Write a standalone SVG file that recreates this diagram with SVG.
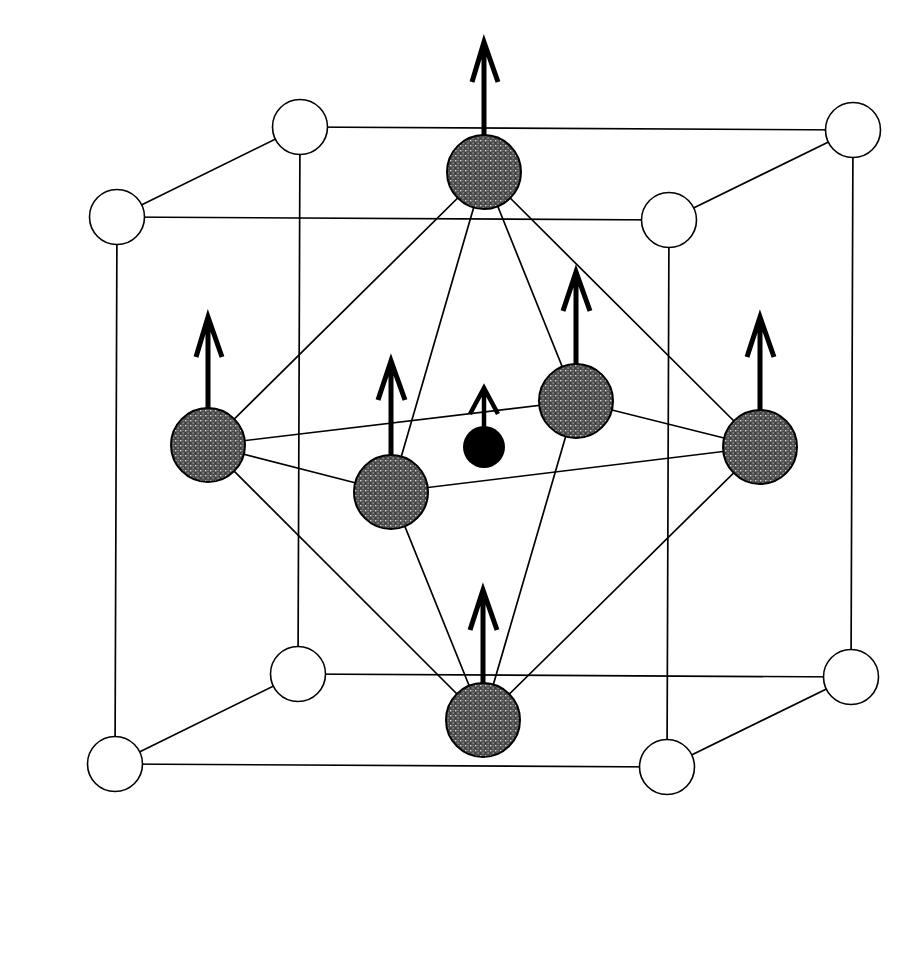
<svg xmlns="http://www.w3.org/2000/svg" width="914" height="972" viewBox="0 0 914 972">
<style>
.l{stroke:#000;stroke-width:1.7;fill:none;stroke-linecap:round}
.w{fill:#fff;stroke:#000;stroke-width:1.6}
.s{fill:url(#dots);stroke:#000;stroke-width:2}
.a{stroke:#000;fill:none;stroke-width:5;stroke-linecap:butt;stroke-linejoin:miter}
</style>
<defs>
<pattern id="dots" width="5" height="5" patternUnits="userSpaceOnUse">
<rect width="5" height="5" fill="#4c4c4c"/>
<rect x="0" y="0" width="1.4" height="1.4" fill="#d8d8d8"/>
<rect x="2.5" y="2.5" width="1.2" height="1.2" fill="#b8b8b8"/>
<rect x="2.5" y="0" width="1" height="1" fill="#8e8e8e"/>
<rect x="0" y="2.5" width="1" height="1" fill="#2c2c2c"/>
</pattern>
</defs>
<rect width="914" height="972" fill="#fff"/>
<g id="connectors">
<path class="l" d="M300 127L853 130M117 217L669 220M298 674L851 677M115 764L667 767"/>
<path class="l" d="M300 127L117 217M853 130L669 220M298 674L115 764M851 677L667 767"/>
<path class="l" d="M117 217L115 764M669 220L667 767M300 127L298 674M853 130L851 677"/>
<path class="l" d="M484 172L208 445M484 172L391 492M484 172L576 401M484 172L760 447"/>
<path class="l" d="M483 720L208 445M483 720L391 492M483 720L576 401M483 720L760 447"/>
<path class="l" d="M208 445L576 401L760 447L391 492Z"/>
</g>
<g id="arrow-top"><path class="a" d="M484 137V42M472 82L484 42L498 82"/></g>
<g id="arrow-left"><path class="a" d="M208 410V317M196 357L208 317L222 357"/></g>
<g id="arrow-front"><path class="a" d="M391 458V361M378 400L391 361L405 400"/></g>
<g id="arrow-back"><path class="a" d="M576 367V272M563 311L576 272L590 311"/></g>
<g id="arrow-right"><path class="a" d="M760 412V317M747 357L760 317L774 357"/></g>
<g id="arrow-bottom"><path class="a" d="M483 690V590M470 630L483 590L497 630"/></g>
<g id="arrow-center"><path class="a" style="stroke-width:4.5" d="M484 430V388M470 414L484 388L498 414"/></g>
<g id="corner-back-top-left"><circle class="w" cx="300" cy="127" r="27.5"/></g>
<g id="corner-back-top-right"><circle class="w" cx="853" cy="130" r="27.5"/></g>
<g id="corner-front-top-left"><circle class="w" cx="117" cy="217" r="27.5"/></g>
<g id="corner-front-top-right"><circle class="w" cx="669" cy="220" r="27.5"/></g>
<g id="corner-back-bottom-left"><circle class="w" cx="298" cy="674" r="27.5"/></g>
<g id="corner-back-bottom-right"><circle class="w" cx="851" cy="677" r="27.5"/></g>
<g id="corner-front-bottom-left"><circle class="w" cx="115" cy="764" r="27.5"/></g>
<g id="corner-front-bottom-right"><circle class="w" cx="667" cy="767" r="27.5"/></g>
<g id="atom-top"><circle class="s" cx="484" cy="172" r="37"/></g>
<g id="atom-bottom"><circle class="s" cx="483" cy="720" r="37"/></g>
<g id="atom-left"><circle class="s" cx="208" cy="445" r="37"/></g>
<g id="atom-right"><circle class="s" cx="760" cy="447" r="37"/></g>
<g id="atom-front"><circle class="s" cx="391" cy="492" r="37"/></g>
<g id="atom-back"><circle class="s" cx="576" cy="401" r="37"/></g>
<g id="atom-center"><circle cx="484" cy="447" r="21" fill="#000"/></g>
</svg>
